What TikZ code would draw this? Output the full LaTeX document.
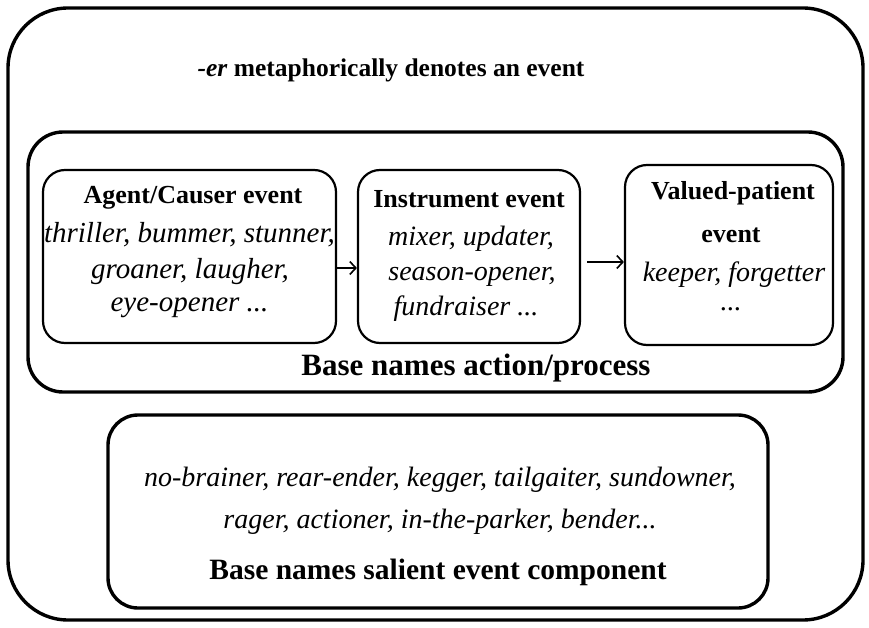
\documentclass[tikz,border=0pt]{standalone}
\usepackage{fontspec}
\setmainfont{Liberation Serif}
\usetikzlibrary{arrows.meta}
\begin{document}
\begin{tikzpicture}[x=1pt,y=-1pt,
  frame/.style={draw, rounded corners=#1, inner sep=0pt},
  heavy/.style={line width=3.4pt},
  light/.style={line width=2.2pt},
  lbl/.style={font=\fontsize{#1}{#1}\selectfont\bfseries, inner sep=0pt, anchor=base},
  lbl/.default=26,
  ex/.style={font=\fontsize{#1}{#1}\selectfont\itshape, inner sep=0pt, anchor=base},
  ex/.default=28,
  link/.style={line width=1.8pt, -{Straight Barb[length=6pt,width=13pt,line width=1.6pt]}}]
\useasboundingbox (0,0) rectangle (869,628);
% outer frame
\node[frame=60pt, heavy, minimum width=855pt, minimum height=612pt] (outer) at (435.5,314) {};
\node[lbl=25.5] (title) at (391,77) {\textit{-er} metaphorically denotes an event};
% action/process group
\node[frame=35pt, heavy, minimum width=815pt, minimum height=260pt] (mid) at (435.5,262) {};
\node[lbl=31] (midlbl) at (476,375) {Base names action/process};
% agent/causer box
\node[frame=22pt, light, minimum width=293pt, minimum height=173pt] (agent) at (189.5,256.5) {};
\node[lbl] (agenthd) at (193,204) {Agent/Causer event};
\node[ex=29] (agent1) at (189.5,242) {thriller, bummer, stunner,};
\node[ex=29] (agent2) at (190,278) {groaner, laugher,};
\node[ex=29] (agent3) at (189.5,311) {eye-opener ...};
% instrument box
\node[frame=22pt, light, minimum width=222pt, minimum height=173pt] (instr) at (469,256.5) {};
\node[lbl] (instrhd) at (469,208) {Instrument event};
\node[ex] (instr1) at (471,245) {mixer, updater,};
\node[ex] (instr2) at (472,280) {season-opener,};
\node[ex] (instr3) at (466,315) {fundraiser ...};
% valued-patient box
\node[frame=22pt, light, minimum width=208pt, minimum height=180pt] (valued) at (729,255) {};
\node[lbl] (valhd1) at (733,200) {Valued-patient};
\node[lbl] (valhd2) at (731,243) {event};
\node[ex] (val1) at (734,281) {keeper, forgetter};
\node[ex] (val2) at (731,310) {...};
% connectors
\draw[link] (agent.east |- 0,268) -- (instr.west |- 0,268);
\draw[link] (587,262) -- (valued.west |- 0,262);
% salient component group
\node[frame=30pt, heavy, minimum width=660pt, minimum height=193pt] (salient) at (438,511.5) {};
\node[ex] (sal1) at (440,486) {no-brainer, rear-ender, kegger, tailgaiter, sundowner,};
\node[ex] (sal2) at (440,528) {rager, actioner, in-the-parker, bender...};
\node[lbl=29.5] (sallbl) at (438,579) {Base names salient event component};
\end{tikzpicture}
\end{document}
